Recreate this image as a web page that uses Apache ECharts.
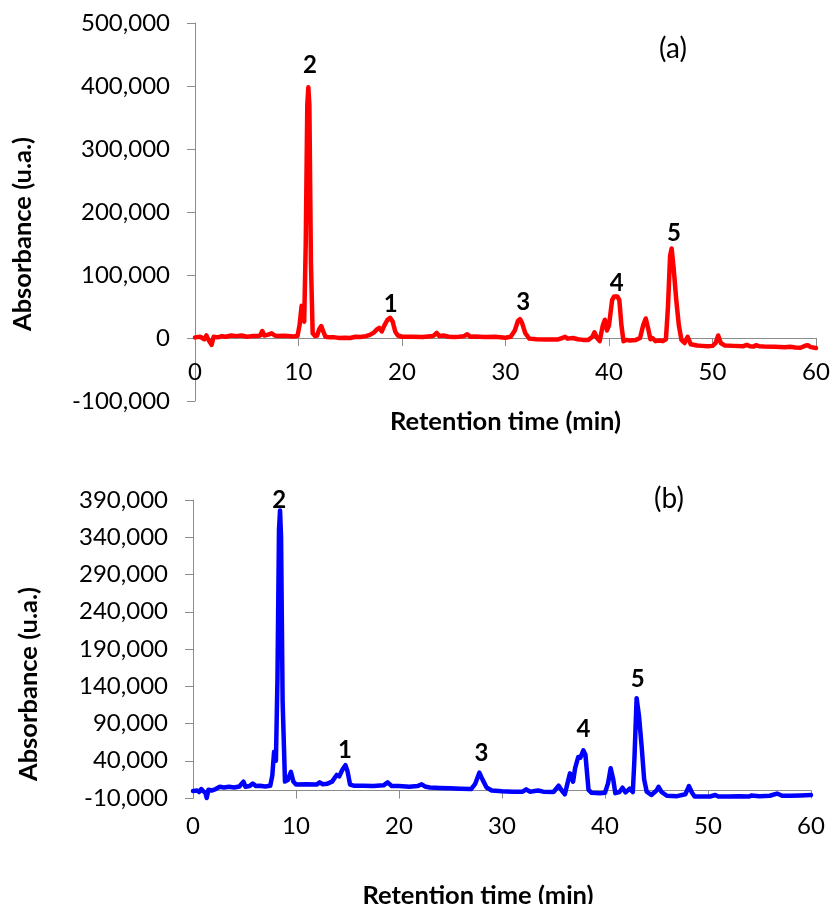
<!DOCTYPE html>
<html>
<head>
<meta charset="utf-8">
<script src="https://cdn.jsdelivr.net/npm/echarts@6/dist/echarts.min.js"></script>
<style>
html,body{margin:0;padding:0;background:#fff;}
#chart{width:833px;height:904px;}
</style>
</head>
<body>
<div id="chart"></div>
<script>
// ---- Data ----
const timesA = [0,0.5,0.9,1.1,1.3,1.6,1.8,2.2,2.6,3.0,3.5,4.0,4.5,5.0,5.5,6.0,6.3,6.5,6.7,7.0,7.4,7.7,8.0,8.5,9.0,9.5,9.9,10.1,10.3,10.45,10.55,10.7,10.85,10.95,11.05,11.2,11.37,11.6,11.8,12.0,12.2,12.4,12.6,13.0,13.5,14.0,14.5,15.0,15.5,16.0,16.5,16.9,17.3,17.6,17.8,18.05,18.3,18.6,18.85,19.1,19.35,19.6,20.0,21.0,22.0,23.0,23.35,23.6,24.0,24.5,25.0,25.5,26.0,26.3,26.6,27.0,28.0,29.0,30.0,30.5,30.9,31.2,31.4,31.6,31.9,32.3,33.0,34.0,35.0,35.5,35.75,36.0,36.5,37.0,37.5,38.0,38.4,38.6,38.85,39.1,39.4,39.6,39.8,40.0,40.3,40.5,40.8,41.0,41.2,41.4,41.7,42.0,42.3,42.6,43.0,43.3,43.55,43.8,44.0,44.2,44.5,44.9,45.2,45.5,45.7,45.9,46.05,46.25,46.5,46.75,47.0,47.3,47.6,47.9,48.5,49.0,49.5,50.0,50.3,50.55,50.8,51.2,52.0,53.0,53.3,53.6,54.0,54.2,54.5,55.0,56.0,57.0,57.5,58.0,58.5,59.0,59.2,59.5,60.0];
const absorbA = [1000,2000,-2000,4000,-3000,-11000,2000,1000,3000,2000,4000,3000,4000,2000,3000,3000,4000,11000,4000,5000,7500,4000,3000,3500,3000,2500,3000,20000,51000,30000,26000,150000,370000,398000,370000,120000,7500,3000,4000,14000,19000,10000,2000,1000,1000,0,500,0,2000,1500,3000,5000,9000,14000,16000,10500,20000,29000,32000,26000,10000,4000,2000,2000,1500,3000,8000,3000,4000,2000,1500,2000,3000,6000,2000,2500,1500,2000,500,2000,12000,27000,30000,24000,8000,-1000,-2000,-2500,-2500,0,2000,-1000,0,-2000,-3000,-3000,2000,9000,0,-5000,20000,29000,12000,20000,60000,66000,66000,60000,20000,-5000,-3000,-4000,-3500,-3000,0,20000,31000,14000,-2000,0,-5000,-4000,-5000,-2000,50000,130000,142000,110000,60000,20000,-3000,-8000,2000,-10000,-12000,-12500,-13000,-12500,-8000,4000,-8000,-12000,-12500,-13000,-11000,-13000,-13500,-11500,-13000,-13500,-14000,-14500,-14000,-15000,-15500,-12000,-11500,-14500,-16000];

const timesB = [0,0.4,0.6,0.8,1.0,1.2,1.33,1.5,1.8,2.2,2.6,3.0,3.5,4.0,4.5,4.9,5.1,5.5,5.8,6.1,6.5,7.0,7.5,7.7,7.87,8.05,8.2,8.35,8.45,8.55,8.7,8.93,9.2,9.5,9.75,10.0,11.0,12.0,12.3,12.6,13.0,13.5,13.95,14.2,14.5,14.8,15.0,15.25,15.6,16.5,17.5,18.5,18.9,19.3,20.0,21.0,21.8,22.2,22.6,23.0,24.0,25.0,26.0,27.0,27.4,27.8,28.1,28.5,29.0,30.0,31.0,32.0,32.35,32.7,33.0,33.5,34.0,35.0,35.5,35.8,36.1,36.4,36.6,36.9,37.1,37.4,37.6,37.9,38.1,38.4,38.7,39.5,40.0,40.3,40.55,40.8,41.0,41.4,41.7,42.0,42.4,42.7,42.85,43.07,43.3,43.56,43.8,44.05,44.5,45.0,45.2,45.5,45.7,46.0,47.0,47.8,48.15,48.45,48.7,49.5,50.2,50.7,51.0,52.0,53.0,54.0,54.2,55.0,56.0,56.7,57.2,58.0,59.0,60.0];
const absorbB = [-500,0,-2000,2000,-1000,-3000,-10000,1000,0,2000,5000,4000,5000,4000,5500,12000,5000,6000,9500,6000,6500,5500,6500,20000,52000,40000,150000,350000,376000,340000,120000,12000,14000,25000,12000,8000,8500,8000,11000,8500,9000,12000,21000,19000,28000,34000,26000,8000,6500,6500,6000,7000,11000,6000,6000,5000,6000,8400,5000,4000,3500,3000,2500,2000,9000,24000,15000,4000,0,-1000,-1500,-1500,1700,-1500,-1000,0,-1500,-2000,6500,0,-5000,12000,23000,12000,30000,45000,44000,54000,48000,1000,-3000,-3500,-3000,10000,30000,15000,-3500,-2000,3800,-2500,2500,-2000,40000,124000,100000,59000,15000,-1500,-6000,0,5000,-2000,-4000,-7000,-7500,-5000,6000,-3000,-8000,-8000,-8000,-6000,-8000,-8000,-7500,-8000,-6500,-7500,-7000,-4000,-7000,-7000,-6500,-6000];

// Peak labels: name and the data-coordinate point where each label sits
const peakNames = ['2','1','3','4','5'];
const peakLabelTimesA = [11.1,18.9,31.7,40.74,46.28];
const peakLabelValsA  = [433000,53500,56000,86800,166000];
const peakLabelTimesB = [8.38,14.76,28.0,37.9,43.17];
const peakLabelValsB  = [390000,54000,50000,82200,149300];

// Axis ranges / ticks
const xTicks = {min:0, max:60, interval:10};
const yTicksA = {min:-100000, max:500000, interval:100000};
const yTicksB = {min:-10000, max:390000, interval:50000};

const xTitle = 'Retention time (min)';
const yTitle = 'Absorbance (u.a.)';
const panelTags = ['(a)','(b)'];

// ---- Chart ----
const FONT = 'Lato';
const AXIS_COLOR = '#8c8c8c';
const TITLE_SIZE = 25.5;
const TICK_SIZE = 24;
const zip = (a,b) => a.map((t,i)=>[t,b[i]]);
const fmt = v => Number(v).toLocaleString('en-US');

function peakMarks(times, vals){
  return {
    symbol:'rect', symbolSize:1, silent:true, animation:false,
    itemStyle:{color:'rgba(0,0,0,0)'},
    label:{show:true, position:'inside', formatter:p=>p.name, color:'#000',
      fontFamily:FONT, fontWeight:'bold', fontSize:24},
    data: peakNames.map((n,i)=>({name:n, coord:[times[i], vals[i]]}))
  };
}

// labels/name of an on-zero axis are laid out from the grid edge in ECharts,
// so margins below are measured from the grid bottom.
function xAxisCfg(gridIndex, labelMargin, nameGap, namePad){
  return {
    type:'value', gridIndex, min:xTicks.min, max:xTicks.max, interval:xTicks.interval,
    name:xTitle, nameLocation:'middle', nameGap, nameMoveOverlap:false,
    nameTextStyle:{fontFamily:FONT, fontWeight:'bold', fontSize:TITLE_SIZE, color:'#000', padding:namePad},
    axisLine:{show:true, onZero:true, lineStyle:{color:AXIS_COLOR, width:1}},
    axisTick:{show:true, inside:false, length:8, lineStyle:{color:AXIS_COLOR}},
    axisLabel:{fontFamily:FONT, fontSize:TICK_SIZE, color:'#000', margin:labelMargin},
    splitLine:{show:false}
  };
}
function yAxisCfg(gridIndex, t){
  return {
    type:'value', gridIndex, min:t.min, max:t.max, interval:t.interval,
    axisLine:{show:true, onZero:false, lineStyle:{color:AXIS_COLOR, width:1}},
    axisTick:{show:true, inside:false, length:8, lineStyle:{color:AXIS_COLOR}},
    axisLabel:{fontFamily:FONT, fontSize:TICK_SIZE, color:'#000', margin:25, formatter:fmt},
    splitLine:{show:false}
  };
}

const chart = echarts.init(document.getElementById('chart'), null, {renderer:'canvas'});
chart.setOption({
  animation:false,
  backgroundColor:'#ffffff',
  grid:[
    {left:195, right:17, top:23, height:378, outerBoundsMode:'none', containLabel:false},
    {left:193, right:22, top:500, height:298, outerBoundsMode:'none', containLabel:false}
  ],
  xAxis:[ xAxisCfg(0, -41, 8, [0,0,0,0]), xAxisCfg(1, 16, 85, [0,48,0,0]) ],
  yAxis:[ yAxisCfg(0, yTicksA), yAxisCfg(1, yTicksB) ],
  series:[
    {type:'line', xAxisIndex:0, yAxisIndex:0, data:zip(timesA, absorbA), showSymbol:false,
     symbol:'none', smooth:false, clip:false,
     lineStyle:{color:'#ff0000', width:4.5, join:'round', cap:'round'},
     markPoint:peakMarks(peakLabelTimesA, peakLabelValsA)},
    {type:'line', xAxisIndex:1, yAxisIndex:1, data:zip(timesB, absorbB), showSymbol:false,
     symbol:'none', smooth:false, clip:false,
     lineStyle:{color:'#0000ff', width:4.5, join:'round', cap:'round'},
     markPoint:peakMarks(peakLabelTimesB, peakLabelValsB)}
  ],
  graphic:[
    {type:'text', x:22.5, y:234, rotation:Math.PI/2,
     style:{text:yTitle, fontFamily:FONT, fontWeight:'bold', fontSize:TITLE_SIZE, fill:'#000',
            textAlign:'center', textVerticalAlign:'middle'}},
    {type:'text', x:29, y:684, rotation:Math.PI/2,
     style:{text:yTitle, fontFamily:FONT, fontWeight:'bold', fontSize:TITLE_SIZE, fill:'#000',
            textAlign:'center', textVerticalAlign:'middle'}},
    {type:'text', x:673, y:49, style:{text:panelTags[0], fontFamily:FONT, fontSize:28, fill:'#000',
            textAlign:'center', textVerticalAlign:'middle'}},
    {type:'text', x:669, y:499, style:{text:panelTags[1], fontFamily:FONT, fontSize:28, fill:'#000',
            textAlign:'center', textVerticalAlign:'middle'}}
  ]
});
</script>
</body>
</html>
